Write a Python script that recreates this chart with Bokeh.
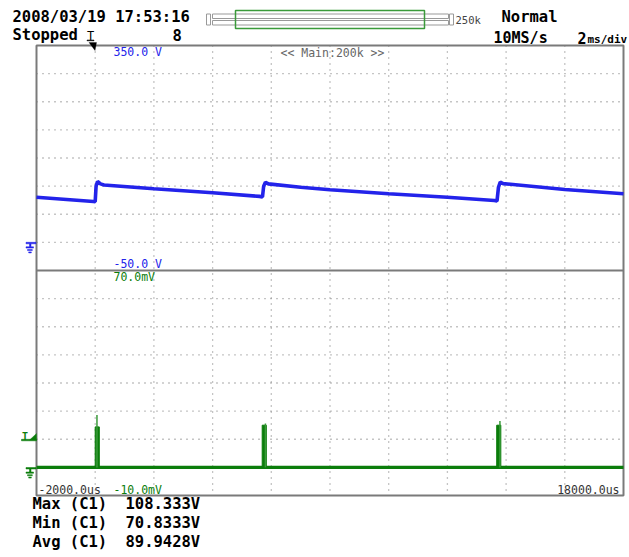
from bokeh.plotting import figure
from bokeh.models import Range1d, Label, BoxAnnotation, PolyAnnotation
from bokeh.embed import file_html
from bokeh.resources import INLINE

# ---------------- data ----------------
t_start_us = -2000
t_div_us = 2000
n_xdiv = 10

ch1_top_v = 350.0
ch1_bottom_v = -50.0
ch1_div_v = 50.0
ch2_top_mv = 70.0
ch2_bottom_mv = -10.0
ch2_div_mv = 10.0

# channel 1 (blue) trace vertices: time [us], voltage [V]
ch1_t_us = [-2000, -60, 0, 30, 80, 180, 300, 2000, 4000, 5600, 5700,
            5740, 5800, 5900, 7000, 8000, 10000, 12000, 13600, 13690,
            13740, 13800, 13900, 16000, 18000]
ch1_v = [80.3, 72.8, 72.5, 100.0, 108.3, 104.0, 102.0, 95.2, 88.1, 81.8, 80.8,
         100.0, 107.0, 104.0, 98.1, 93.5, 86.4, 80.3, 74.4, 73.5,
         98.0, 107.0, 104.5, 94.0, 86.4]

# channel 2 (green) baseline and pulses
ch2_t_us = [-2000, 18000]
ch2_mv = [0.0, 0.0]
spike_start_us = [0, 5690, 13680]
spike_end_us = [140, 5830, 13820]
spike_body_mv = [14.4, 15.0, 15.0]
spike_tip_us = [60, 5800, 13790]
spike_tip_mv = [18.6, 15.6, 16.5]

meas_names = ["Max (C1)", "Min (C1)", "Avg (C1)"]
meas_values_v = [108.333, 70.8333, 89.9428]

header_date = "2008/03/19 17:53:16"
header_state = "Stopped"
header_count = "8"
header_mode = "Normal"
header_rate = "10MS/s"
header_record = "250k"
header_zoom = "<< Main:200k >>"

BLUE = "#2323ea"
GREEN = "#0b7d0b"
GRID = "#8a8a8a"
FRAME = "#7a7a7a"
MONO = "DejaVu Sans Mono"

# ---------------- layout (canvas pixels) ----------------
W, H = 629, 557
SX0, SX1 = 36, 623      # scope screen left / right
SY0, SY1 = 45, 495      # scope screen top / bottom

t_end_us = t_start_us + n_xdiv * t_div_us
n_half = int(round((ch1_top_v - ch1_bottom_v) / ch1_div_v))   # divisions per panel
ch1_low = ch1_top_v - 2 * n_half * ch1_div_v
div_px = (SY1 - SY0) / (2 * n_half)
us_px = (t_end_us - t_start_us) / (SX1 - SX0)
v_px = ch1_div_v / div_px
mv_px = ch2_div_mv / div_px
mid_y = SY0 + n_half * div_px

x_range = Range1d(t_start_us - SX0 * us_px, t_end_us + (W - SX1) * us_px)
y_range = Range1d(ch1_top_v - (H - SY0) * v_px, ch1_top_v + SY0 * v_px)
ch2_range = Range1d(ch2_top_mv - (H - mid_y) * mv_px, ch2_top_mv + mid_y * mv_px)

p = figure(width=W, height=H, output_backend="svg", toolbar_location=None,
           x_range=x_range, y_range=y_range, title=None,
           min_border=0, x_axis_location=None, y_axis_location=None,
           background_fill_color="white", border_fill_color="white")
p.extra_y_ranges = {"ch2": ch2_range}
p.outline_line_color = None
p.xgrid.visible = False
p.ygrid.visible = False

# graticule (dotted), divider and screen border
vx = [t_start_us + i * t_div_us for i in range(1, n_xdiv)]
p.segment(x0=vx, y0=[ch1_top_v] * len(vx), x1=vx, y1=[ch1_low] * len(vx),
          line_color=GRID, line_width=1.3, line_dash="1 5")
hy = [ch1_top_v - i * ch1_div_v for i in range(1, 2 * n_half) if i != n_half]
p.segment(x0=[t_start_us] * len(hy), y0=hy, x1=[t_end_us] * len(hy), y1=hy,
          line_color=GRID, line_width=1.3, line_dash="1 5")
p.segment(x0=[t_start_us], y0=[ch1_bottom_v], x1=[t_end_us], y1=[ch1_bottom_v],
          line_color=FRAME, line_width=2)
p.quad(left=[t_start_us], right=[t_end_us], top=[ch1_top_v], bottom=[ch1_low],
       fill_color=None, line_color=FRAME, line_width=2)

# traces
p.line(ch1_t_us, ch1_v, line_color=BLUE, line_width=3.6)
p.line(ch2_t_us, ch2_mv, line_color=GREEN, line_width=3.4, y_range_name="ch2")
p.quad(left=spike_start_us, right=spike_end_us, bottom=[0] * len(spike_start_us),
       top=spike_body_mv, fill_color=GREEN, line_color=GREEN, line_width=1,
       y_range_name="ch2")
p.segment(x0=spike_tip_us, y0=[0] * len(spike_tip_us), x1=spike_tip_us, y1=spike_tip_mv,
          line_color="#3a9a3a", line_width=1.5, y_range_name="ch2")


def lab(text, x, y, size, color="black", bold=False, align="left", font=MONO):
    # y is the page y of the glyph bottoms; compensate the svg baseline placement
    yy = y - 0.3 * size
    p.add_layout(Label(x=x, y=H - yy, x_units="screen", y_units="screen",
                       text=text, text_font=font, text_font_size=f"{size}px",
                       text_color=color, text_font_style="bold" if bold else "normal",
                       text_align=align, text_baseline="alphabetic"))


def box(l, t, r, b, line="#999999", fill=None, lw=1.0):
    p.add_layout(BoxAnnotation(left=l, right=r, top=H - t, bottom=H - b,
                               left_units="screen", right_units="screen",
                               top_units="screen", bottom_units="screen",
                               fill_color=fill, fill_alpha=1.0 if fill else 0.0,
                               line_color=line if line else fill, line_alpha=1.0,
                               line_width=lw))


def tri(xs, ys, color):
    p.add_layout(PolyAnnotation(xs=list(xs), ys=[H - v for v in ys],
                                xs_units="screen", ys_units="screen",
                                fill_color=color, fill_alpha=1.0,
                                line_color=color, line_width=1))


def ground(y0, color):
    box(25.5, y0, 35.5, y0 + 1.5, line=None, fill=color, lw=0.5)
    box(29.0, y0 + 1.5, 30.5, y0 + 4.5, line=None, fill=color, lw=0.5)
    box(25.5, y0 + 4.5, 33.0, y0 + 5.8, line=None, fill=color, lw=0.5)
    box(27.0, y0 + 7.2, 31.8, y0 + 8.3, line=None, fill=color, lw=0.5)
    box(28.2, y0 + 9.6, 30.8, y0 + 10.6, line=None, fill=color, lw=0.5)


# header
lab(header_date, 12, 21, 15.5, bold=True)
lab(header_state, 12, 39.5, 15.5, bold=True)
lab(header_count, 172, 39.5, 15.5, bold=True)
lab(header_mode, 501, 21, 15.5, bold=True)
lab(header_rate, 493, 42, 15, bold=True)
lab("2", 577, 42, 15, bold=True)
lab("ms/div", 587, 42, 11, bold=True)
lab(header_record, 455, 22.5, 10.5, color="#444444")
lab("T", 86.5, 39, 12)
box(86.5, 39.5, 93.5, 40.3, line=None, fill="black", lw=0.5)
tri([88.5, 96, 94.5], [42, 42, 50], "black")

# record-length bar
box(206, 13.5, 210, 24.5)
box(212, 13.5, 448, 18)
box(212, 20, 448, 24.5)
box(449, 13.5, 453, 24.5)
box(235, 10, 424, 28, line="#3a9a3a", lw=1.5)

# in-frame labels
lab(f"{ch1_top_v:.1f} V", 113, 55, 11.5, color=BLUE)
lab(f"{ch1_bottom_v:.1f} V", 113, 266.5, 11.5, color=BLUE)
lab(header_zoom, 280, 56, 11.5, color="#666666")
lab(f"{ch2_top_mv:.1f}mV", 113, 280, 11.5, color=GREEN)
lab(f"{ch2_bottom_mv:.1f}mV", 113, 492.5, 11.5, color=GREEN)
lab(f"{t_start_us:.1f}us", 38, 492.5, 11.5, color="#333333")
lab(f"{t_end_us:.1f}us", 619, 492.5, 11.5, color="#333333", align="right")

# ground / trigger markers
ground(241.8, BLUE)
ground(467.0, GREEN)
lab("T", 21.5, 438.5, 10, color=GREEN, bold=True)
tri([29, 36, 36], [439.5, 439.5, 433], GREEN)
box(21, 438.8, 36, 440.3, line=None, fill=GREEN, lw=0.5)

# measurements
for i, (name, val) in enumerate(zip(meas_names, meas_values_v)):
    yb = 508 + 19 * i
    lab(name, 32, yb, 15.5, bold=True)
    lab(f"{val:.6g}V", 125, yb, 15.5, bold=True)

open("out.html", "w").write(file_html(p, INLINE))
